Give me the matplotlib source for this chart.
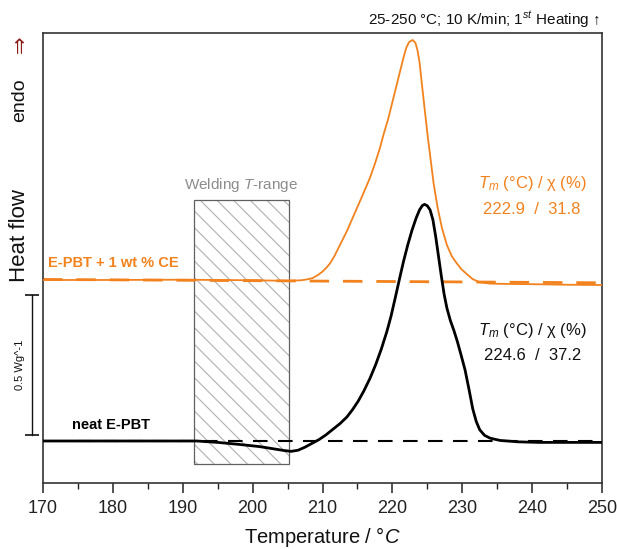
import matplotlib
matplotlib.use("Agg")
import matplotlib.pyplot as plt
from matplotlib.patches import Rectangle
from matplotlib.ticker import MultipleLocator
import matplotlib.transforms as mtransforms

plt.rcParams['font.family'] = ['Liberation Sans', 'DejaVu Sans']
plt.rcParams['mathtext.fontset'] = 'custom'
plt.rcParams['mathtext.rm'] = 'Liberation Sans'
plt.rcParams['mathtext.it'] = 'Liberation Sans:italic'
plt.rcParams['mathtext.bf'] = 'Liberation Sans:bold'
plt.rcParams['hatch.linewidth'] = 0.8

# ---- data ----
neat_T = [170, 180, 190, 192, 195, 198, 201, 203, 204.5, 205.5, 206.5, 207.5, 208.6, 209.5, 210.5,
          211.5, 212.5, 213.5, 214.3, 215.1, 215.9, 216.8, 217.6, 218.4, 219.2, 219.8, 220.4, 221.0,
          221.6, 222.2, 222.8, 223.4, 223.9, 224.3, 224.6, 225.0, 225.4, 225.8, 226.2, 226.6,
          227.0, 227.4, 227.8, 228.3, 228.8, 229.3, 229.8, 230.4, 231.0, 231.5, 232.0, 232.5, 233.2,
          234.0, 235.4, 238, 241, 245, 250]
neat_hf = [0, 0, 0, 0, -0.005, -0.012, -0.02, -0.028, -0.034, -0.037, -0.033, -0.022, -0.007, 0.005,
           0.022, 0.042, 0.062, 0.086, 0.112, 0.142, 0.178, 0.224, 0.272, 0.327, 0.39, 0.445, 0.51,
           0.577, 0.642, 0.70, 0.752, 0.796, 0.826, 0.841, 0.845, 0.84, 0.825, 0.79, 0.73, 0.66,
           0.59, 0.525, 0.475, 0.43, 0.395, 0.355, 0.31, 0.254, 0.18, 0.115, 0.07, 0.04, 0.02, 0.01,
           0.002, -0.003, -0.005, -0.005, -0.005]

ce_T = [170, 180, 190, 195, 200, 205, 207.0, 208.0, 208.6, 209.3, 210.0, 210.6, 211.1, 211.7, 212.3,
        212.9, 213.5, 214.2, 214.9, 215.6, 216.2, 216.8, 217.5, 218.2, 218.8, 219.4, 220.0, 220.6,
        221.1, 221.6, 222.0, 222.4, 222.9, 223.3, 223.6, 223.9, 224.2, 224.6, 225.0, 225.4, 225.9,
        226.5, 227.1, 227.8, 228.5, 229.2, 229.9, 230.7, 231.5, 232.5, 234, 236, 240, 245, 250]
ce_hf = [0.575, 0.575, 0.576, 0.575, 0.574, 0.572, 0.574, 0.578, 0.582, 0.592, 0.605, 0.62, 0.635,
         0.66, 0.69, 0.72, 0.75, 0.79, 0.83, 0.87, 0.905, 0.94, 0.99, 1.045, 1.10, 1.15, 1.21, 1.27,
         1.32, 1.37, 1.405, 1.425, 1.432, 1.422, 1.395, 1.35, 1.28, 1.19, 1.10, 1.02, 0.92, 0.83,
         0.76, 0.70, 0.66, 0.635, 0.613, 0.595, 0.578, 0.567, 0.562, 0.561, 0.56, 0.558, 0.557]

ce_base_T = [170, 250]
ce_base_hf = [0.577, 0.565]
neat_base_T = [175, 250]
neat_base_hf = [0.0, 0.0]

weld_range = [191.6, 205.2]
weld_hf = [-0.082, 0.861]

scale_bar = [0.021, 0.521]

ce_label = "E-PBT + 1 wt % CE"
neat_label = "neat E-PBT"
ce_values = "222.9  /  31.8"
neat_values = "224.6  /  37.2"

ORANGE = '#F2821E'

fig = plt.figure(figsize=(6.17, 5.5), dpi=100)
ax = fig.add_axes([43/617, 67/550, 559/617, 450/550])

ax.set_xlim(170, 250)
ax.set_ylim(-0.15, 1.457)

# welding range
ax.add_patch(Rectangle((weld_range[0], weld_hf[0]), weld_range[1]-weld_range[0], weld_hf[1]-weld_hf[0],
                       facecolor='none', edgecolor='#b0b0b0', hatch='\\\\', lw=0, zorder=1))
ax.add_patch(Rectangle((weld_range[0], weld_hf[0]), weld_range[1]-weld_range[0], weld_hf[1]-weld_hf[0],
                       facecolor='none', edgecolor='#606060', lw=0.9, zorder=1.5))

ax.plot(ce_base_T, ce_base_hf, color=ORANGE, lw=2.0, dashes=(7, 5), zorder=2)
ax.plot(neat_base_T, neat_base_hf, color='black', lw=1.5, dashes=(7, 5), zorder=2)
ax.plot(ce_T, ce_hf, color=ORANGE, lw=1.3, zorder=3, solid_joinstyle='round')
ax.plot(neat_T, neat_hf, color='black', lw=2.0, zorder=3, solid_joinstyle='round')

ax.xaxis.set_major_locator(MultipleLocator(10))
ax.xaxis.set_minor_locator(MultipleLocator(5))
ax.tick_params(axis='x', which='major', direction='out', length=7, width=1.1, labelsize=13,
               colors='#222222', pad=5)
ax.tick_params(axis='x', which='minor', direction='out', length=4, width=1.0, colors='#222222')
ax.set_yticks([])
for s in ax.spines.values():
    s.set_linewidth(1.2)
    s.set_color('#333333')

ax.set_xlabel("Temperature / °$\\it{C}$", fontsize=14.5, labelpad=6, color='#111111')

# texts
ax.text(198.4, 0.914, "Welding $T$-range", color='#8c8c8c', fontsize=11, ha='center', va='center')
ax.text(170.7, 0.636, ce_label, color=ORANGE, fontsize=10.5, fontweight='bold', ha='left', va='center')
ax.text(174.1, 0.057, neat_label, color='black', fontsize=10.5, fontweight='bold', ha='left', va='center')

ax.text(240.0, 0.921, "$T_m$ (°C) / χ (%)", color=ORANGE, fontsize=12, ha='center', va='center')
ax.text(240.0, 0.826, ce_values, color=ORANGE, fontsize=12, ha='center', va='center')
ax.text(240.0, 0.396, "$T_m$ (°C) / χ (%)", color='#111111', fontsize=12, ha='center', va='center')
ax.text(240.0, 0.307, neat_values, color='#111111', fontsize=12, ha='center', va='center')

# title
fig.text(600/617, 1 - 20/550, "25-250 °C; 10 K/min; 1$^{st}$ Heating ↑", fontsize=11, ha='right',
         va='center', color='#111111')

# y label pieces
fig.text(20/617, 1 - 235/550, "Heat flow", rotation=90, fontsize=16, ha='center', va='center', color='#111111')
fig.text(20/617, 1 - 100/550, "endo", rotation=90, fontsize=14, ha='center', va='center', color='#111111')
fig.text(20/617, 1 - 44/550, "⇒", rotation=90, fontsize=15, ha='center', va='center', color='#8B1A1A',
         family=['DejaVu Sans'])

# scale bar
trans = mtransforms.blended_transform_factory(ax.transAxes, ax.transData)
xb = -11/559
ax.plot([xb, xb], scale_bar, color='#111111', lw=1.0, transform=trans, clip_on=False)
ax.plot([xb, xb], scale_bar, color='#111111', lw=0, marker='_', markersize=10, markeredgewidth=1.2,
        transform=trans, clip_on=False)
ax.text(-23/559, (scale_bar[0] + scale_bar[1]) / 2, "0.5 Wg^-1", rotation=90, fontsize=8,
        ha='center', va='center', transform=trans, color='#111111')

fig.savefig("out.png", dpi=100)
